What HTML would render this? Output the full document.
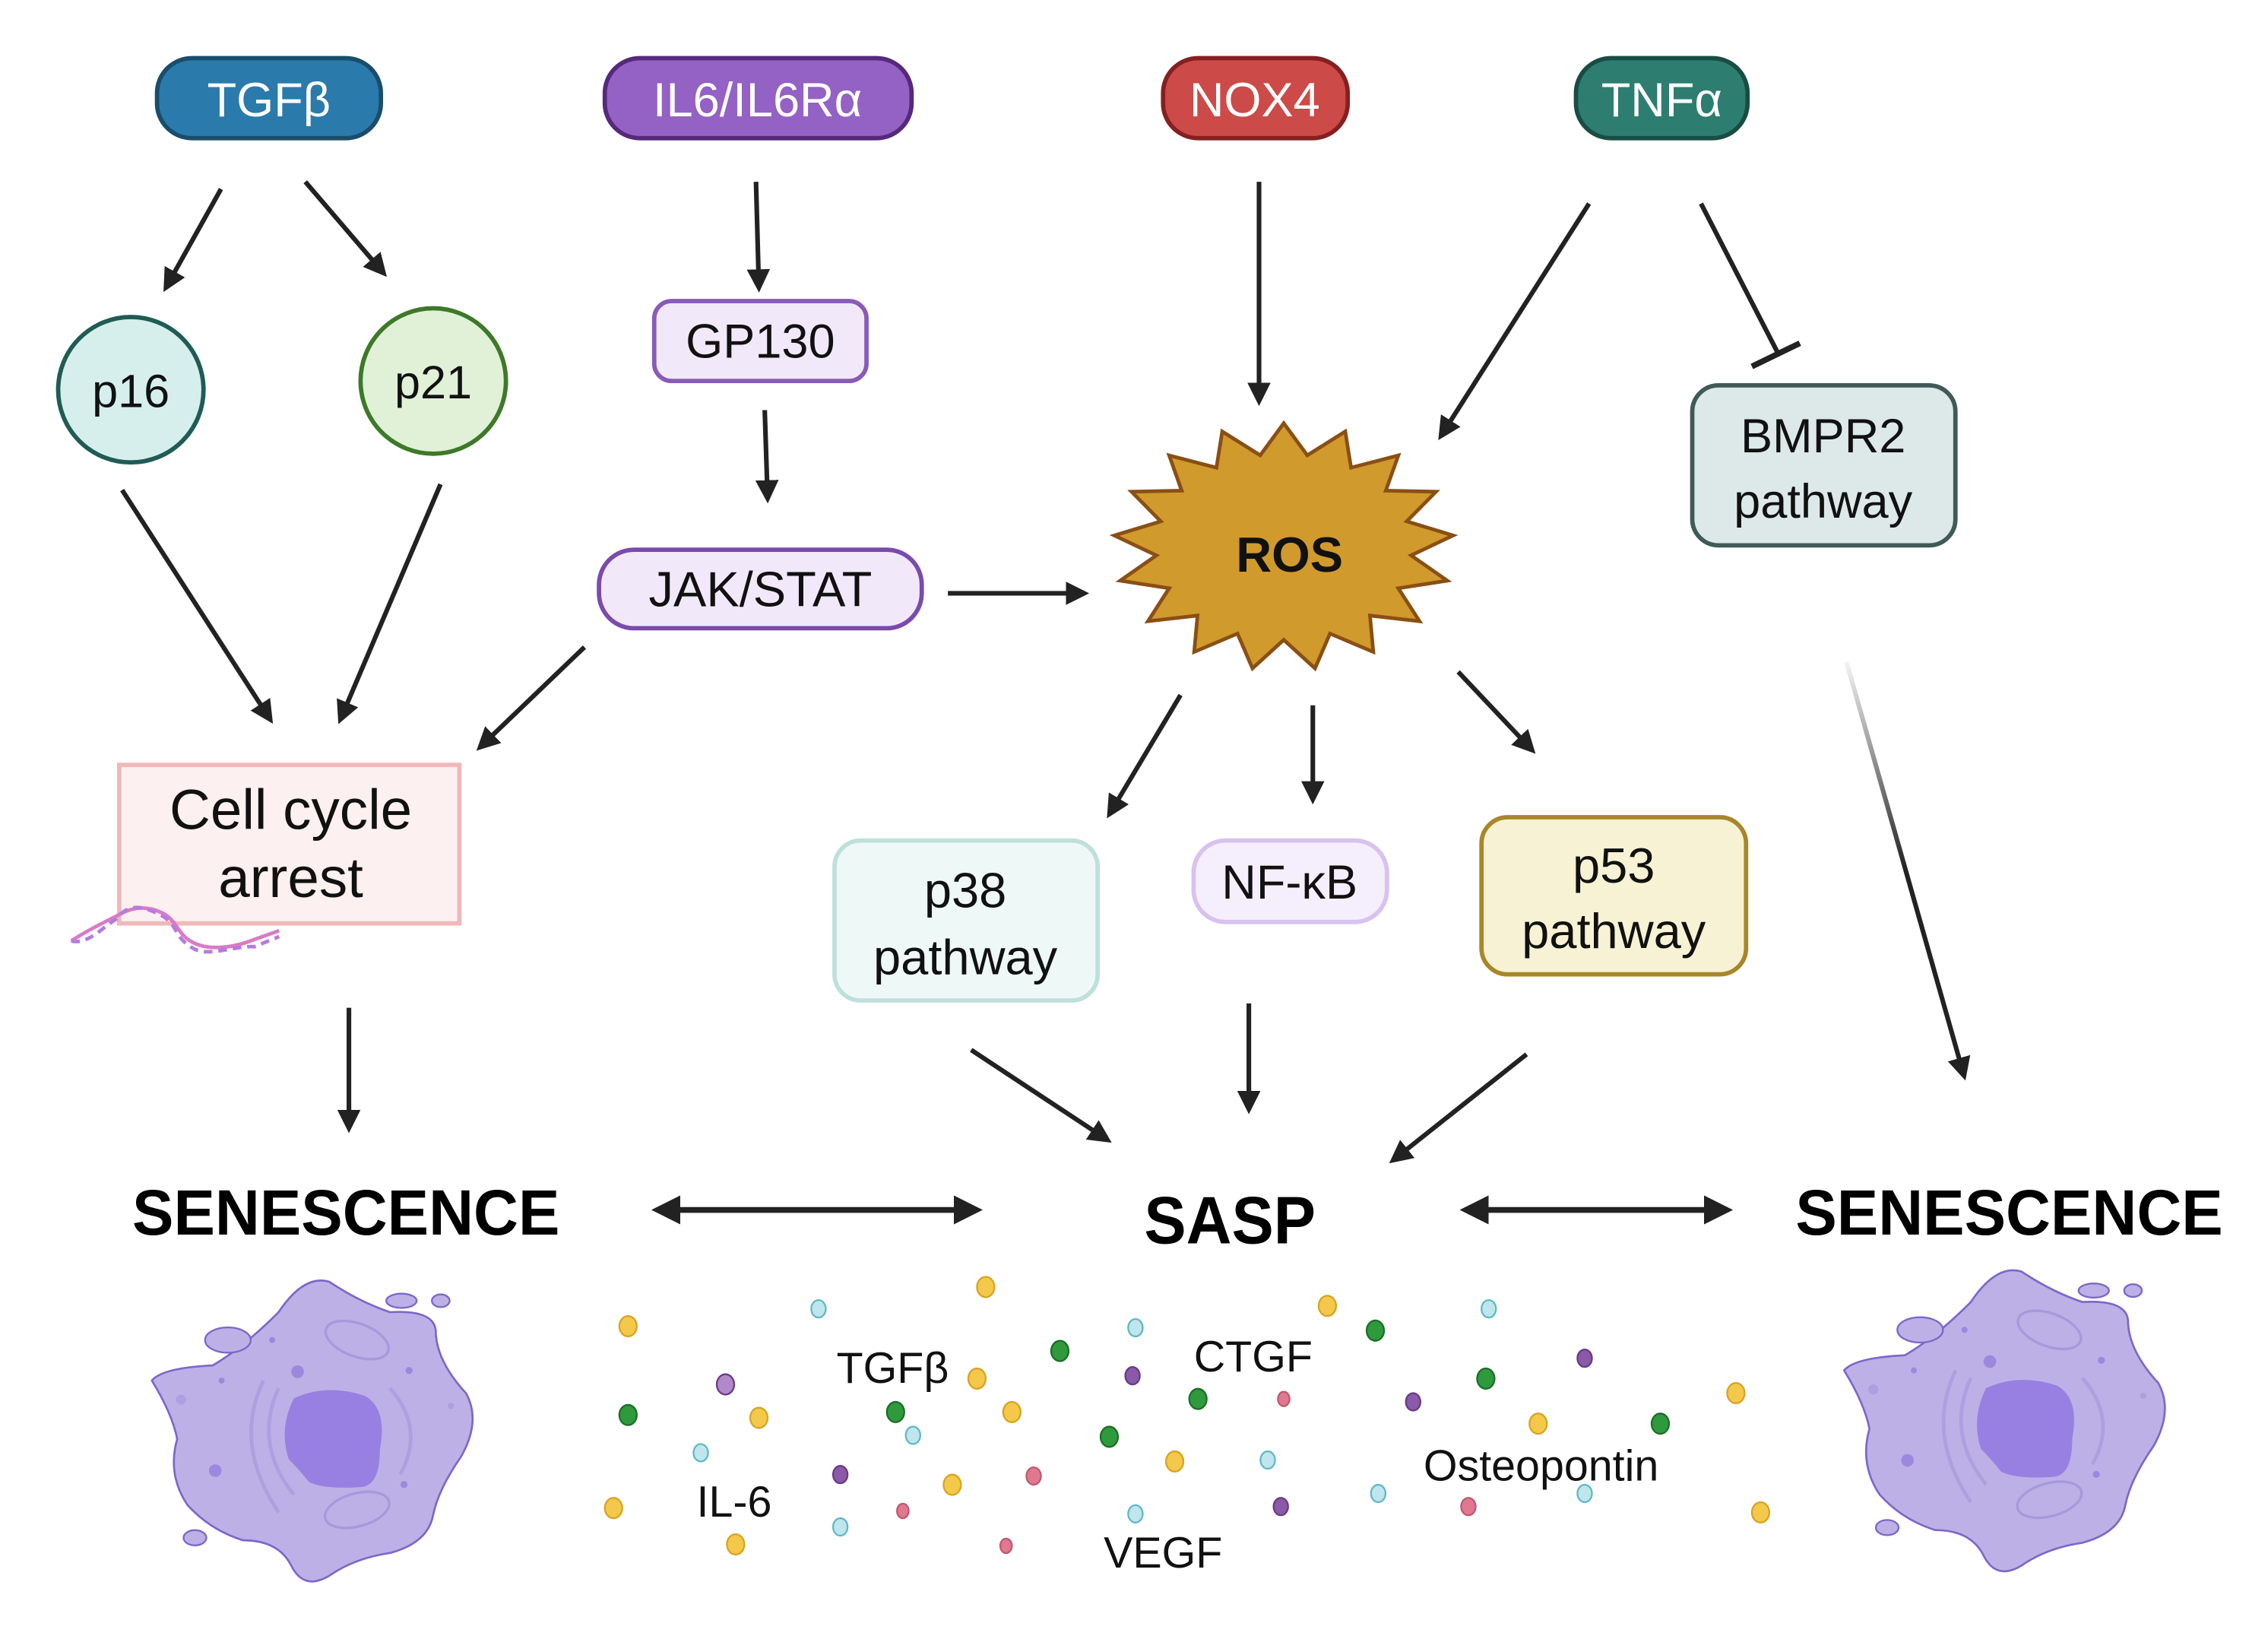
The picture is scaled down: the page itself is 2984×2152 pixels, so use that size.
<!DOCTYPE html>
<html><head><meta charset="utf-8"><style>
html,body{margin:0;padding:0;background:#fff;}
svg{display:block;}
text{font-family:"Liberation Sans",sans-serif;}
</style></head><body>
<svg width="2984" height="2152" viewBox="0 0 1560 1125" preserveAspectRatio="none" xmlns="http://www.w3.org/2000/svg">
<defs>
<marker id="ah" viewBox="0 0 10 10" refX="8" refY="5" markerWidth="5" markerHeight="5" orient="auto-start-reverse" markerUnits="strokeWidth">
<path d="M0,0 L10,5 L0,10 Z" fill="#222"/></marker>
<linearGradient id="gl" x1="1270" y1="455" x2="1352" y2="742" gradientUnits="userSpaceOnUse">
<stop offset="0" stop-color="#222" stop-opacity="0.05"/><stop offset="0.5" stop-color="#222"/><stop offset="1" stop-color="#222"/></linearGradient>
<g id="cell">
<path d="M60,530 Q100,480 300,470 Q420,400 560,260 Q660,110 760,140 Q880,220 1000,260 Q1170,250 1180,330 Q1180,450 1300,580 Q1360,690 1280,830 Q1190,960 1170,1060 Q1150,1170 1000,1210 Q860,1230 760,1300 Q660,1360 610,1260 Q560,1160 420,1160 Q290,1120 200,1020 Q120,900 160,760 Q140,660 60,530 Z" fill="#bdb0e6" stroke="#7d67c8" stroke-width="8"/>
<ellipse cx="360" cy="370" rx="90" ry="50" fill="#bdb0e6" stroke="#7d67c8" stroke-width="7"/>
<ellipse cx="1045" cy="215" rx="60" ry="28" fill="#bdb0e6" stroke="#7d67c8" stroke-width="7"/>
<ellipse cx="1200" cy="215" rx="35" ry="25" fill="#bdb0e6" stroke="#7d67c8" stroke-width="7"/>
<ellipse cx="230" cy="1150" rx="45" ry="30" fill="#bdb0e6" stroke="#7d67c8" stroke-width="7"/>
<ellipse cx="870" cy="370" rx="130" ry="65" transform="rotate(20 870 370)" fill="none" stroke="#a898dc" stroke-width="10"/>
<ellipse cx="870" cy="1040" rx="130" ry="65" transform="rotate(-15 870 1040)" fill="none" stroke="#a898dc" stroke-width="10"/>
<path d="M500,530 Q380,780 560,1050 M560,560 Q460,780 620,980 M1000,560 Q1140,720 1040,900" fill="none" stroke="#ad9fe0" stroke-width="14"/>
<path d="M620,600 Q750,540 900,590 Q990,640 960,800 Q960,950 880,950 Q740,960 680,930 Q640,880 600,840 Q560,720 620,600 Z" fill="#9880e3"/>
<circle cx="635" cy="495" r="25" fill="#9d88e0"/><circle cx="310" cy="885" r="25" fill="#9d88e0"/>
<circle cx="1075" cy="490" r="14" fill="#9d88e0"/><circle cx="1055" cy="940" r="14" fill="#9d88e0"/>
<circle cx="535" cy="370" r="12" fill="#9d88e0"/><circle cx="335" cy="530" r="12" fill="#9d88e0"/>
<circle cx="175" cy="605" r="20" fill="#ad9fe0"/><circle cx="1240" cy="630" r="12" fill="#ad9fe0"/>
</g>
</defs>

<rect x="108" y="40" width="154" height="55" rx="24" fill="#2a7bab" stroke="#1a4d6c" stroke-width="3"/>
<text x="185" y="80" font-size="33" fill="#fff" text-anchor="middle">TGFβ</text>
<rect x="416" y="40" width="211" height="55" rx="24" fill="#9461c4" stroke="#55297c" stroke-width="3"/>
<text x="521" y="80" font-size="33" fill="#fff" text-anchor="middle">IL6/IL6Rα</text>
<rect x="800" y="40" width="127" height="55" rx="24" fill="#cc4a48" stroke="#862020" stroke-width="3"/>
<text x="863" y="80" font-size="33" fill="#fff" text-anchor="middle">NOX4</text>
<rect x="1084" y="40" width="118" height="55" rx="24" fill="#2d7e70" stroke="#194d44" stroke-width="3"/>
<text x="1143" y="80" font-size="33" fill="#fff" text-anchor="middle">TNFα</text>

<g stroke="#222" stroke-width="3.2" fill="none" marker-end="url(#ah)">
<line x1="152" y1="130" x2="114" y2="198"/>
<line x1="210" y1="125" x2="264" y2="188"/>
<line x1="520" y1="125" x2="522" y2="198"/>
<line x1="526" y1="282" x2="528" y2="343"/>
<line x1="652" y1="408" x2="746" y2="408"/>
<line x1="402" y1="445" x2="330" y2="514"/>
<line x1="84" y1="337" x2="186" y2="495"/>
<line x1="303" y1="333" x2="234" y2="495"/>
<line x1="240" y1="693" x2="240" y2="776"/>
<line x1="866" y1="125" x2="866" y2="276"/>
<line x1="1093" y1="140" x2="991" y2="300"/>
<line x1="812" y1="478" x2="763" y2="560"/>
<line x1="903" y1="485" x2="903" y2="550"/>
<line x1="1003" y1="462" x2="1054" y2="516"/>
<line x1="668" y1="722" x2="762" y2="784"/>
<line x1="859" y1="690" x2="859" y2="763"/>
<line x1="1050" y1="725" x2="958" y2="798"/>
<line x1="1270" y1="455" x2="1351" y2="740" stroke="url(#gl)"/>
<line x1="452" y1="832" x2="672" y2="832" stroke-width="4" marker-start="url(#ah)"/>
<line x1="1008" y1="832" x2="1188" y2="832" stroke-width="4" marker-start="url(#ah)"/>
</g>
<line x1="1170" y1="140" x2="1223" y2="243" stroke="#222" stroke-width="3.2"/>
<line x1="1205" y1="252" x2="1238" y2="236" stroke="#222" stroke-width="4"/>

<circle cx="90" cy="268" r="50" fill="#d6efec" stroke="#1f5c55" stroke-width="3"/>
<text x="90" y="280" font-size="32" text-anchor="middle" fill="#111">p16</text>
<circle cx="298" cy="262" r="50" fill="#e0f1d8" stroke="#3d7a28" stroke-width="3"/>
<text x="298" y="274" font-size="32" text-anchor="middle" fill="#111">p21</text>

<rect x="450" y="207" width="146" height="55" rx="12" fill="#f1e9fa" stroke="#8a5ab8" stroke-width="3"/>
<text x="523" y="246" font-size="33" text-anchor="middle" fill="#111">GP130</text>
<rect x="412" y="378" width="222" height="54" rx="24" fill="#f1e9fa" stroke="#7b4aad" stroke-width="3"/>
<text x="523" y="417" font-size="34" text-anchor="middle" fill="#111">JAK/STAT</text>

<rect x="82" y="526" width="234" height="109" fill="#fdf0f0" stroke="#f0b8b8" stroke-width="3"/>
<text x="200" y="570" font-size="39" text-anchor="middle" fill="#111">Cell cycle</text>
<text x="200" y="617" font-size="39" text-anchor="middle" fill="#111">arrest</text>
<path d="M49,647 C60,640 70,635 80,630 C90,624 100,622 112,628 C120,632 122,640 128,645 C140,655 160,652 175,646 L192,640" fill="none" stroke="#d97bc6" stroke-width="2.5"/>
<path d="M49,647 C60,650 70,638 80,632 C90,618 104,626 112,630 C122,636 120,644 130,650 C140,660 160,650 175,651 L192,644" fill="none" stroke="#b57be0" stroke-width="2.5" stroke-dasharray="6 4"/>

<polygon fill="#d09a2c" stroke="#8a4f14" stroke-width="2.5" points="883,291 899.2,313.1 925.3,296.7 929.3,321.6 961.8,313.2 953.2,337.4 987.7,338.1 967.6,358.5 999.5,368.2 970.6,381.9 995.5,399.3 961.8,404.5 976.4,427.2 942.3,423.3 944.6,448.3 914.8,435.7 904.5,459.6 883,440 861.5,459.6 851.2,435.7 821.4,448.3 823.7,423.3 789.6,427.2 804.2,404.5 770.5,399.3 795.4,381.9 766.5,368.2 798.4,358.5 778.3,338.1 812.8,337.4 804.2,313.2 836.7,321.6 840.7,296.7 866.8,313.1"/>
<text x="887" y="393" font-size="34" font-weight="bold" text-anchor="middle" fill="#111">ROS</text>

<rect x="1164" y="265" width="181" height="110" rx="18" fill="#dce9e8" stroke="#3f5a57" stroke-width="3"/>
<text x="1254" y="311" font-size="33" text-anchor="middle" fill="#111">BMPR2</text>
<text x="1254" y="356" font-size="33" text-anchor="middle" fill="#111">pathway</text>

<rect x="574" y="578" width="181" height="110" rx="18" fill="#eef8f6" stroke="#bfe0da" stroke-width="3"/>
<text x="664" y="624" font-size="34" text-anchor="middle" fill="#111">p38</text>
<text x="664" y="670" font-size="34" text-anchor="middle" fill="#111">pathway</text>
<rect x="821" y="578" width="133" height="56" rx="22" fill="#f5eefc" stroke="#d8c2ee" stroke-width="3"/>
<text x="887" y="618" font-size="33" text-anchor="middle" fill="#111">NF-κB</text>
<rect x="1019" y="562" width="182" height="108" rx="18" fill="#f8f2d4" stroke="#a8862a" stroke-width="3"/>
<text x="1110" y="607" font-size="34" text-anchor="middle" fill="#111">p53</text>
<text x="1110" y="652" font-size="34" text-anchor="middle" fill="#111">pathway</text>

<text x="238" y="849" font-size="44" font-weight="bold" text-anchor="middle" textLength="294" lengthAdjust="spacingAndGlyphs" fill="#000">SENESCENCE</text>
<text x="846" y="855" font-size="46" font-weight="bold" text-anchor="middle" textLength="118" lengthAdjust="spacingAndGlyphs" fill="#000">SASP</text>
<text x="1382" y="849" font-size="44" font-weight="bold" text-anchor="middle" textLength="294" lengthAdjust="spacingAndGlyphs" fill="#000">SENESCENCE</text>

<use href="#cell" transform="translate(94,857) scale(0.1743)"/>
<use href="#cell" transform="translate(1258,850) scale(0.1743)"/>

<g stroke-width="1.2">
<g fill="#f4c84a" stroke="#d8a420">
<ellipse cx="432" cy="912" rx="6" ry="7"/><ellipse cx="678" cy="885" rx="6" ry="7"/><ellipse cx="522" cy="975" rx="6" ry="7"/><ellipse cx="672" cy="948" rx="6" ry="7"/><ellipse cx="696" cy="971" rx="6" ry="7"/><ellipse cx="913" cy="898" rx="6" ry="7"/><ellipse cx="808" cy="1005" rx="6" ry="7"/><ellipse cx="1058" cy="979" rx="6" ry="7"/><ellipse cx="1194" cy="958" rx="6" ry="7"/><ellipse cx="655" cy="1021" rx="6" ry="7"/><ellipse cx="422" cy="1037" rx="6" ry="7"/><ellipse cx="506" cy="1062" rx="6" ry="7"/><ellipse cx="1211" cy="1040" rx="6" ry="7"/></g>
<g fill="#bfe6ec" stroke="#60b8c8">
<ellipse cx="563" cy="900" rx="5" ry="6"/><ellipse cx="781" cy="913" rx="5" ry="6"/><ellipse cx="628" cy="987" rx="5" ry="6"/><ellipse cx="482" cy="999" rx="5" ry="6"/><ellipse cx="872" cy="1004" rx="5" ry="6"/><ellipse cx="1024" cy="900" rx="5" ry="6"/><ellipse cx="578" cy="1050" rx="5" ry="6"/><ellipse cx="781" cy="1041" rx="5" ry="6"/><ellipse cx="948" cy="1027" rx="5" ry="6"/><ellipse cx="1090" cy="1027" rx="5" ry="6"/></g>
<g fill="#2e9a3c" stroke="#1c6e28">
<ellipse cx="432" cy="973" rx="6" ry="7"/><ellipse cx="729" cy="929" rx="6" ry="7"/><ellipse cx="616" cy="971" rx="6" ry="7"/><ellipse cx="824" cy="962" rx="6" ry="7"/><ellipse cx="763" cy="988" rx="6" ry="7"/><ellipse cx="946" cy="915" rx="6" ry="7"/><ellipse cx="1022" cy="948" rx="6" ry="7"/><ellipse cx="1142" cy="979" rx="6" ry="7"/></g>
<g fill="#8a5aa8" stroke="#6a3a88">
<ellipse cx="499" cy="952" rx="6" ry="7" fill="#b08ac8"/><ellipse cx="779" cy="946" rx="5" ry="6"/><ellipse cx="578" cy="1014" rx="5" ry="6"/><ellipse cx="972" cy="964" rx="5" ry="6"/><ellipse cx="1090" cy="934" rx="5" ry="6"/><ellipse cx="881" cy="1036" rx="5" ry="6"/></g>
<g fill="#e07890" stroke="#c05870">
<ellipse cx="883" cy="962" rx="4" ry="5"/><ellipse cx="711" cy="1015" rx="5" ry="6"/><ellipse cx="621" cy="1039" rx="4" ry="5"/><ellipse cx="692" cy="1063" rx="4" ry="5"/><ellipse cx="1010" cy="1036" rx="5" ry="6"/></g>
</g>
<g font-size="30" fill="#111" text-anchor="middle">
<text x="614" y="951">TGFβ</text>
<text x="862" y="943">CTGF</text>
<text x="505" y="1043">IL-6</text>
<text x="800" y="1078">VEGF</text>
<text x="1060" y="1018">Osteopontin</text>
</g>
</svg>
</body></html>
